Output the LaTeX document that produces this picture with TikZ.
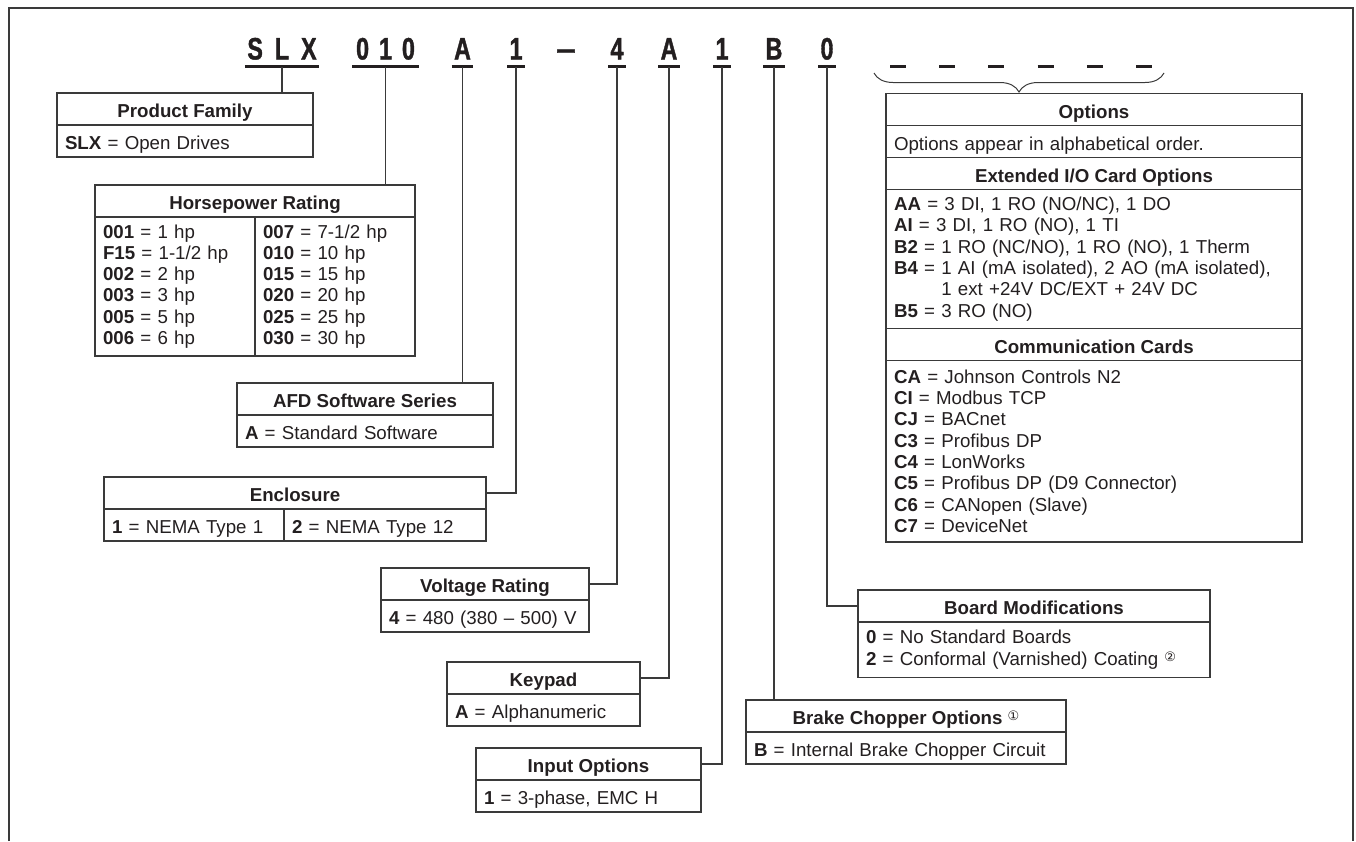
\documentclass[tikz,border=0pt]{standalone}
\usepackage{fontspec}
\setmainfont{Liberation Sans}
\newfontfamily\codefont{Liberation Sans}[FakeStretch=0.75, FakeBold=1.2]
\newfontfamily\symfont{DejaVu Sans}
\usetikzlibrary{positioning,calc,decorations.pathreplacing}

\definecolor{ink}{HTML}{231F20}
\definecolor{linec}{HTML}{3A3A3A}

\newcommand\bodyfont{\fontsize{18.7}{21.3}\selectfont}
\newcommand\codesize{\fontsize{31}{31}\selectfont}
\newcommand\circnum[1]{\raisebox{4pt}{\mdseries\symfont\fontsize{13}{13}\selectfont #1}}

\begin{document}
\begin{tikzpicture}[
    x=1pt, y=-1pt, font=\bodyfont, text=ink,
    hdr/.style={draw=linec, line width=1.3pt, minimum width=#1, minimum height=32pt,
        inner sep=0pt, outer sep=0pt, text height=17pt, text depth=0pt,
        font=\bodyfont\bfseries, anchor=north west},
    cell/.style={draw=linec, line width=1.3pt, text width=#1, inner xsep=8pt, inner ysep=0pt,
        minimum height=32pt, outer sep=0pt, text height=17pt, text depth=0pt,
        align=left, anchor=north west},
    list/.style={draw=linec, line width=1.3pt, text width=#1, inner xsep=8pt, inner ysep=0pt,
        outer sep=0pt, align=left, anchor=north west},
    code/.style={font=\codefont\bfseries\codesize, inner xsep=2.5pt, inner ysep=0pt,
        outer sep=0pt, text depth=7pt, anchor=south,
        append after command={(\tikzlastnode.south west) edge[draw=ink, line width=3pt] (\tikzlastnode.south east)}},
    conn/.style={draw=linec, line width=1.3pt}
]
\useasboundingbox (0,0) rectangle (1356,841);

% frame
\draw[linec, line width=1.5pt] (9,841) -- (9,8) -- (1353,8) -- (1353,841);

% catalog number
\node[code, minimum width=74pt] (cslx) at (282,66.5) {S\hspace{12pt}L\hspace{12pt}X};
\node[code, minimum width=67pt] (chp) at (385.5,66.5) {0\hspace{10pt}1\hspace{10pt}0};
\node[code] (csw) at (462.5,66.5) {A};
\node[code] (cenc) at (516,66.5) {1};
\node[font=\codefont\bfseries\codesize, inner sep=0pt, anchor=base] (cdash) at (566,59.5) {\scalebox{1.5}[1]{–}};
\node[code] (cvolt) at (617,66.5) {4};
\node[code] (ckey) at (669,66.5) {A};
\node[code] (cinp) at (722,66.5) {1};
\node[code] (cbrk) at (774,66.5) {B};
\node[code] (cbrd) at (827,66.5) {0};
\foreach \i in {0,...,5}
    \node[code, minimum width=16pt] (ph\i) at (898+49.2*\i,66.5) {};

% product family
\node[hdr=256pt] (famh) at (57,93) {Product Family};
\node[cell=240pt] (famb) at (famh.south west) {\textbf{SLX} = Open Drives};

% horsepower
\node[hdr=320pt] (hph) at (95,185) {Horsepower Rating};
\node[list=144pt, minimum height=139pt] (hpl) at (hph.south west) {%
    \textbf{001} = 1 hp\\ \textbf{F15} = 1-1/2 hp\\ \textbf{002} = 2 hp\\
    \textbf{003} = 3 hp\\ \textbf{005} = 5 hp\\ \textbf{006} = 6 hp};
\node[list=144pt, minimum height=139pt] (hpr) at (hpl.north east) {%
    \textbf{007} = 7-1/2 hp\\ \textbf{010} = 10 hp\\ \textbf{015} = 15 hp\\
    \textbf{020} = 20 hp\\ \textbf{025} = 25 hp\\ \textbf{030} = 30 hp};

% software series
\node[hdr=256pt] (afdh) at (237,383) {AFD Software Series};
\node[cell=240pt] (afdb) at (afdh.south west) {\textbf{A} = Standard Software};

% enclosure
\node[hdr=382pt] (ench) at (104,477) {Enclosure};
\node[cell=164pt] (encl) at (ench.south west) {\textbf{1} = NEMA Type 1};
\node[cell=186pt] (encr) at (encl.north east) {\textbf{2} = NEMA Type 12};

% voltage
\node[hdr=208pt] (volth) at (381,568) {Voltage Rating};
\node[cell=192pt] (voltb) at (volth.south west) {\textbf{4} = 480 (380 – 500) V};

% keypad
\node[hdr=193pt] (keyh) at (447,662) {Keypad};
\node[cell=177pt] (keyb) at (keyh.south west) {\textbf{A} = Alphanumeric};

% input options
\node[hdr=225pt] (inph) at (476,748) {Input Options};
\node[cell=209pt] (inpb) at (inph.south west) {\textbf{1} = 3-phase, EMC H};

% brake chopper
\node[hdr=320pt] (brkh) at (746,700) {Brake Chopper Options \circnum{①}};
\node[cell=304pt] (brkb) at (brkh.south west) {\textbf{B} = Internal Brake Chopper Circuit};

% board modifications
\node[hdr=352pt] (brdh) at (858,590) {Board Modifications};
\node[list=336pt, minimum height=55.5pt] (brdb) at (brdh.south west) {%
    \textbf{0} = No Standard Boards\\
    \textbf{2} = Conformal (Varnished) Coating \circnum{②}};

% options
\node[hdr=416pt] (opth) at (886,93.5) {Options};
\node[cell=400pt] (optn) at (opth.south west) {Options appear in alphabetical order.};
\node[hdr=416pt] (exth) at (optn.south west) {Extended I/O Card Options};
\node[list=400pt, minimum height=139pt] (extb) at (exth.south west) {%
    \textbf{AA} = 3 DI, 1 RO (NO/NC), 1 DO\\
    \textbf{AI} = 3 DI, 1 RO (NO), 1 TI\\
    \textbf{B2} = 1 RO (NC/NO), 1 RO (NO), 1 Therm\\
    \textbf{B4} = 1 AI (mA isolated), 2 AO (mA isolated),\\
    \phantom{\textbf{B4} = }1 ext +24V DC/EXT + 24V DC\\
    \textbf{B5} = 3 RO (NO)};
\node[hdr=416pt] (comh) at (extb.south west) {Communication Cards};
\node[list=400pt, minimum height=181.5pt] (comb) at (comh.south west) {%
    \textbf{CA} = Johnson Controls N2\\
    \textbf{CI} = Modbus TCP\\
    \textbf{CJ} = BACnet\\
    \textbf{C3} = Profibus DP\\
    \textbf{C4} = LonWorks\\
    \textbf{C5} = Profibus DP (D9 Connector)\\
    \textbf{C6} = CANopen (Slave)\\
    \textbf{C7} = DeviceNet};

% brace over the option places
\coordinate (brl) at (874,73);
\coordinate (brr) at (1164,73);
\draw[linec, line width=1pt, decorate, decoration={brace, mirror, amplitude=19pt}] (brl) -- (brr);

% lines
\draw[conn] (cslx.south) -- (cslx.south |- famh.north);
\draw[conn] (chp.south) -- (chp.south |- hph.north);
\draw[conn] (csw.south) -- (csw.south |- afdh.north);
\draw[conn] (cenc.south) |- (ench.east);
\draw[conn] (cvolt.south) |- (volth.east);
\draw[conn] (ckey.south) |- (keyh.east);
\draw[conn] (cinp.south) |- (inph.east);
\draw[conn] (cbrk.south) -- (cbrk.south |- brkh.north);
\draw[conn] (cbrd.south) |- (brdh.west);

\end{tikzpicture}
\end{document}
